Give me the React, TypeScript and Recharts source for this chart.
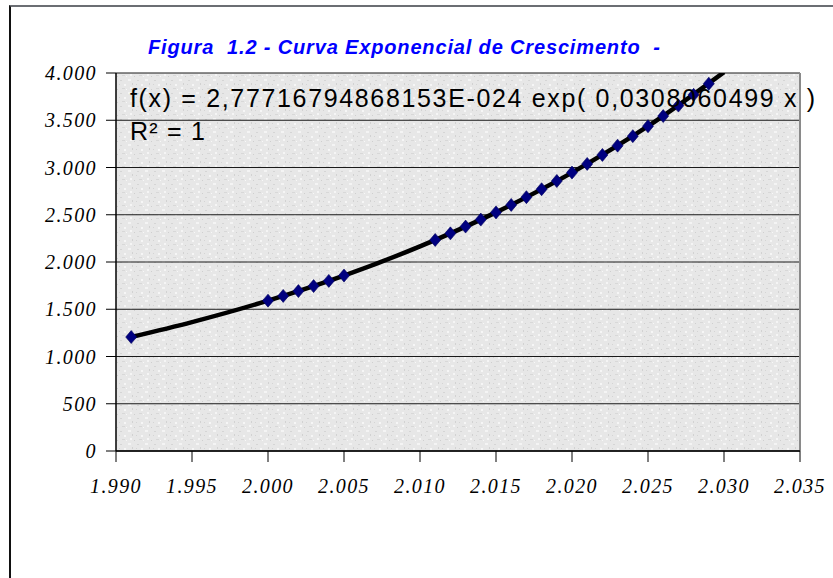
import React from "react";
import {
  CartesianGrid,
  ComposedChart,
  Line,
  ReferenceLine,
  Scatter,
  XAxis,
  YAxis,
} from "recharts";

const years = [1991, 2000, 2001, 2002, 2003, 2004, 2005, 2011, 2012, 2013, 2014, 2015, 2016, 2017, 2018, 2019, 2020, 2021, 2022, 2023, 2024, 2025, 2026, 2027, 2028, 2029];
const population = [1206, 1591, 1641, 1692, 1745, 1800, 1856, 2233, 2303, 2375, 2449, 2525, 2604, 2686, 2770, 2857, 2946, 3038, 3133, 3231, 3332, 3437, 3544, 3655, 3769, 3887];

// Exponential trendline, read at a few years along the black curve
const trendYears = [1991, 1995, 2000, 2005, 2010, 2015, 2020, 2025, 2030];
const trendValues = [1206, 1364, 1591, 1856, 2165, 2525, 2946, 3437, 4009];

const xTicks = [1990, 1995, 2000, 2005, 2010, 2015, 2020, 2025, 2030, 2035];
const yTicks = [0, 500, 1000, 1500, 2000, 2500, 3000, 3500, 4000];

const title = "Figura  1.2 - Curva Exponencial de Crescimento  -";
const equation = "f(x) = 2,77716794868153E-024 exp( 0,0308060499 x )";
const rSquared = "R² = 1";

const points = years.map((year, i) => ({ year, value: population[i] }));
const trend = trendYears.map((year, i) => ({ year, value: trendValues[i] }));

const fmt = (v: number) => String(v).replace(/\B(?=(\d{3})+(?!\d))/g, ".");

const tickStyle = {
  fontSize: 20,
  fill: "#000",
  fontFamily: "'Liberation Serif', 'Times New Roman', serif",
  fontStyle: "italic",
  letterSpacing: 1.4,
} as const;

function Diamond(props: any) {
  const { cx, cy } = props;
  if (cx == null || cy == null) return null;
  return (
    <polygon
      points={`${cx},${cy - 6.5} ${cx + 5.5},${cy} ${cx},${cy + 6.5} ${cx - 5.5},${cy}`}
      fill="#000080"
      stroke="#00005a"
      strokeWidth={0.6}
    />
  );
}

export default function App() {
  return (
    <div style={{ position: "absolute", left: 0, top: 0, width: 833, height: 578, background: "#fff", overflow: "hidden" }}>
      {/* chart-area frame: gray top edge, dark left edge */}
      <div style={{ position: "absolute", left: 9, top: 5, width: 840, height: 600, borderTop: "2px solid #6b6e73", borderLeft: "2px solid #111" }} />
      <div style={{ position: "absolute", left: 0, top: 0 }}>
        <ComposedChart width={833} height={578} margin={{ top: 73, right: 33, bottom: 77, left: 16 }}>
          <defs>
            {/* speckled "granite" fill like the Excel plot area */}
            <pattern id="grain" width="17" height="13" patternUnits="userSpaceOnUse">
              <rect width="17" height="13" fill="#e7e7e7" />
              <rect x="1" y="2" width="2" height="1" fill="#d5d5d5" />
              <rect x="9" y="1" width="3" height="2" fill="#f4f4f4" />
              <rect x="5" y="6" width="2" height="2" fill="#f6f6f6" />
              <rect x="13" y="5" width="1" height="2" fill="#d2d2d2" />
              <rect x="3" y="10" width="3" height="1" fill="#d8d8d8" />
              <rect x="11" y="9" width="2" height="2" fill="#f5f5f5" />
              <rect x="15" y="11" width="1" height="1" fill="#cfcfcf" />
              <rect x="7" y="11" width="1" height="1" fill="#f8f8f8" />
              <rect x="0" y="6" width="1" height="1" fill="#d4d4d4" />
            </pattern>
          </defs>
          <CartesianGrid horizontal vertical={false} stroke="#1a1a1a" strokeWidth={1} fill="url(#grain)" fillOpacity={1} />
          <XAxis
            dataKey="year"
            type="number"
            domain={[1990, 2035]}
            ticks={xTicks}
            interval={0}
            tickFormatter={fmt}
            height={50}
            tickSize={11}
            tickMargin={17}
            tick={tickStyle}
            axisLine={{ stroke: "#000", strokeWidth: 1.5 }}
            tickLine={{ stroke: "#000" }}
            allowDataOverflow
          />
          <YAxis
            type="number"
            domain={[0, 4000]}
            ticks={yTicks}
            interval={0}
            tickFormatter={fmt}
            width={100}
            tickSize={10}
            tickMargin={9}
            tick={tickStyle}
            axisLine={{ stroke: "#000", strokeWidth: 1.5 }}
            tickLine={{ stroke: "#000" }}
            allowDataOverflow
          />
          <ReferenceLine x={2035} stroke="#8a8a8a" strokeWidth={2} />
          <Scatter data={points} dataKey="value" shape={<Diamond />} isAnimationActive={false} />
          <Line data={trend} dataKey="value" type="monotone" stroke="#000" strokeWidth={4.5} dot={false} activeDot={false} isAnimationActive={false} />
        </ComposedChart>
      </div>
      <svg width={833} height={578} style={{ position: "absolute", left: 0, top: 0, pointerEvents: "none" }}>
        <text x={148} y={54} textLength={512} lengthAdjust="spacing" fill="#0000ff" fontFamily="'Liberation Sans', Arial, sans-serif" fontWeight="bold" fontStyle="italic" fontSize={20} style={{ whiteSpace: "pre" }}>
          {title}
        </text>
        <text x={130} y={107} textLength={685} lengthAdjust="spacing" fill="#000" fontFamily="'Liberation Sans', Arial, sans-serif" fontSize={25}>
          {equation}
        </text>
        <text x={130} y={140} textLength={75} lengthAdjust="spacing" fill="#000" fontFamily="'Liberation Sans', Arial, sans-serif" fontSize={25}>
          {rSquared}
        </text>
      </svg>
    </div>
  );
}
